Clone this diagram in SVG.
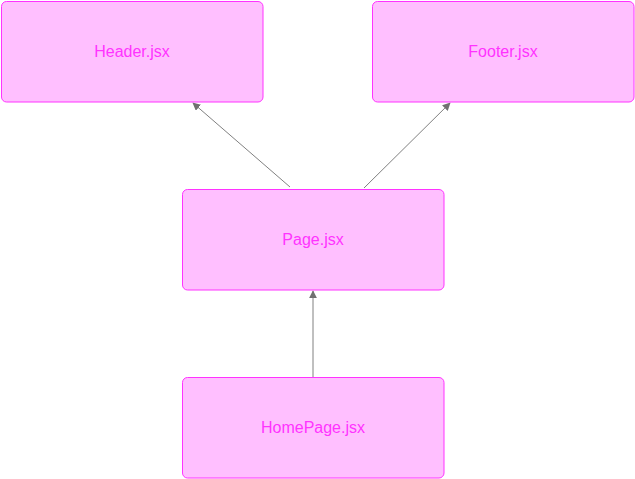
<svg xmlns="http://www.w3.org/2000/svg" width="635" height="479" viewBox="0 0 635 479">
<style>
.node rect{fill:#ffbfff;stroke:#ff33ff;stroke-width:1}
.node text{fill:#ff33ff;font-family:"Liberation Sans",Arial,sans-serif;font-size:16px;text-anchor:middle;dominant-baseline:central}
.edge{stroke:#808080;stroke-width:1;fill:none;marker-end:url(#arr)}
</style>
<defs>
<marker id="arr" viewBox="0 0 10 10" refX="9" refY="5" markerWidth="8" markerHeight="8" markerUnits="userSpaceOnUse" orient="auto">
<path d="M0,0 L10,5 L0,10 z" fill="#707070"/>
</marker>
</defs>
<g id="connectors">
<line class="edge" x1="290" y1="187" x2="193" y2="103"/>
<line class="edge" x1="364" y1="188" x2="450" y2="103"/>
<line class="edge" x1="313" y1="377" x2="313" y2="291"/>
</g>
<g id="header" class="node"><rect x="1.5" y="1.5" width="261.5" height="100.5" rx="5"/><text x="132" y="51">Header.jsx</text></g>
<g id="footer" class="node"><rect x="372.5" y="1.5" width="261.5" height="100.5" rx="5"/><text x="503" y="51">Footer.jsx</text></g>
<g id="page" class="node"><rect x="182.5" y="189.5" width="261.5" height="100.5" rx="5"/><text x="313" y="239">Page.jsx</text></g>
<g id="homepage" class="node"><rect x="182.5" y="377.5" width="261.5" height="100.5" rx="5"/><text x="313" y="427">HomePage.jsx</text></g>
</svg>
